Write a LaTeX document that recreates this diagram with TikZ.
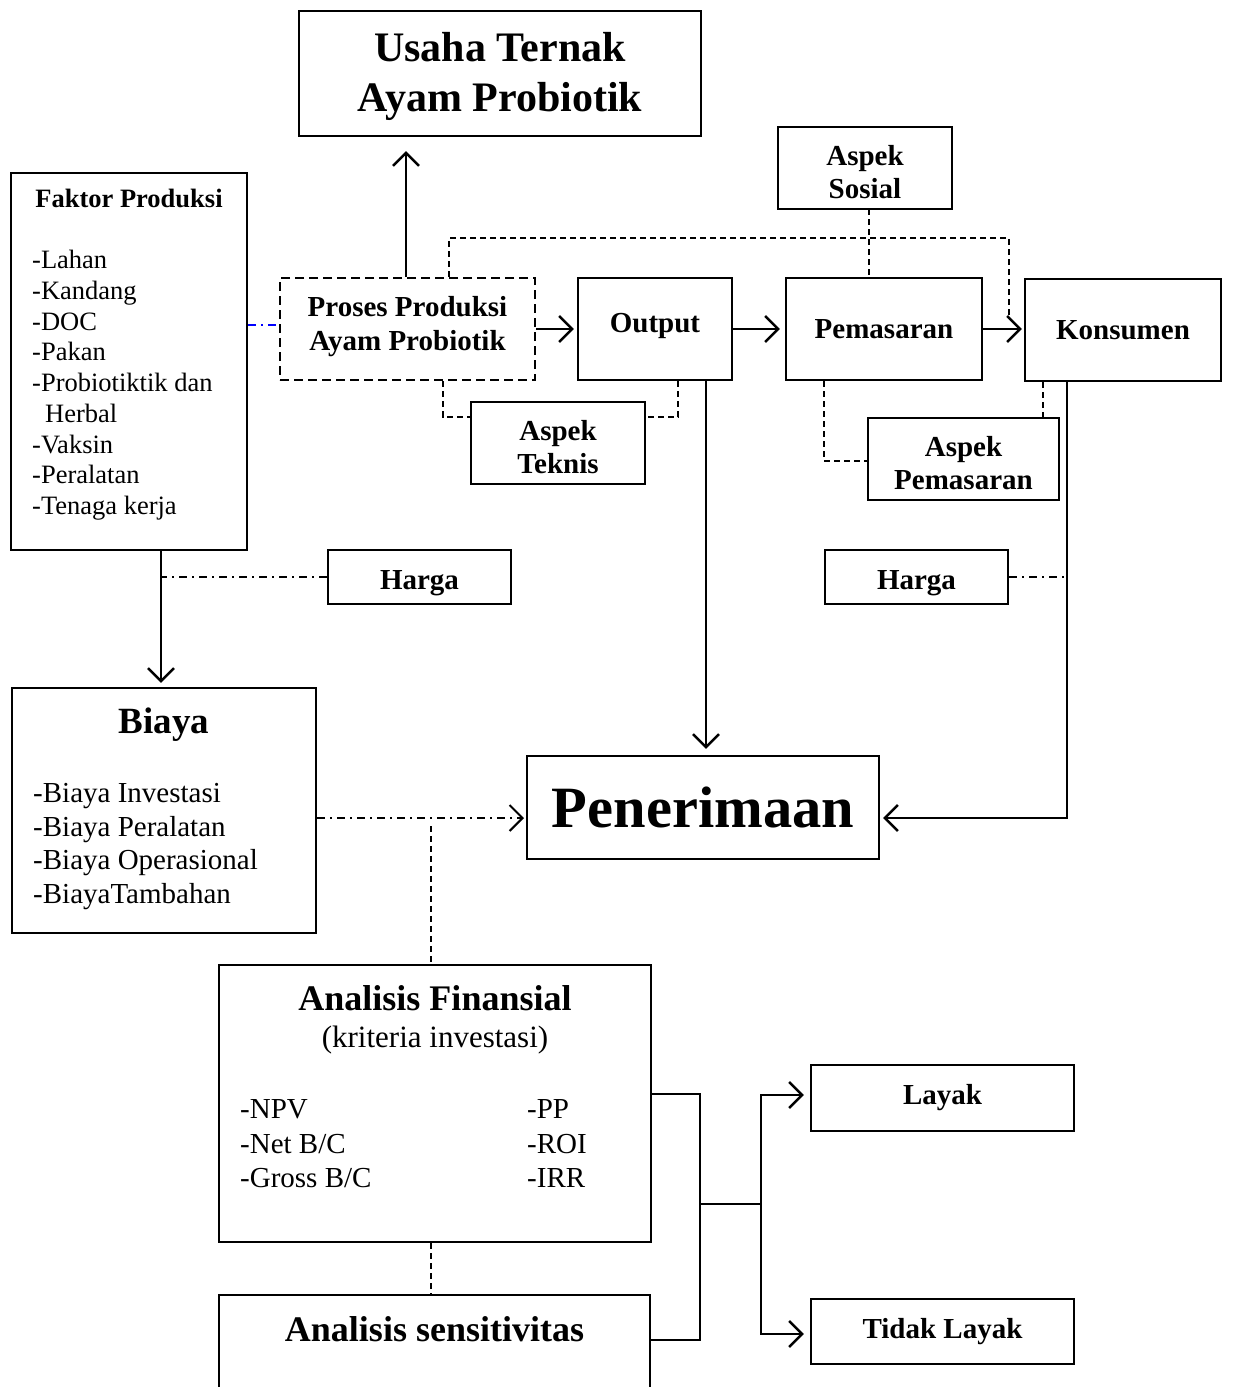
\documentclass[tikz,border=0pt]{standalone}
\usepackage{fontspec}
\setmainfont{Liberation Serif}
\usetikzlibrary{arrows.meta}
\newcommand\fsz[2]{\fontsize{#1pt}{#2pt}\selectfont}
\newcommand\shiftv[2]{\raisebox{#1}[\height][\depth]{#2}}
\tikzset{
  box/.style={draw, line width=2.4pt, inner sep=0pt, align=center},
  dbox/.style={box, dash pattern=on 9pt off 5pt},
  txt/.style={inner sep=0pt},
  line/.style={line width=2.4pt},
  arr/.style={line, -{Straight Barb[length=13pt,width=26pt]}},
  dline/.style={line width=2pt, dash pattern=on 6pt off 4pt},
  dotdash/.style={line width=2pt, dash pattern=on 8pt off 5pt on 2pt off 5pt},
}
\begin{document}
\begin{tikzpicture}[x=1pt, y=-1pt]
  \useasboundingbox (0,0) rectangle (1232,1387);

  \node[box, minimum width=402, minimum height=125, font=\fsz{42}{50}\bfseries] (usaha) at (500,73.5) {\shiftv{-3pt}{Usaha Ternak}\\\shiftv{-3pt}{Ayam Probiotik}};
  \node[box, minimum width=236, minimum height=377] (faktor) at (129,361.5) {};
  \node[dbox, minimum width=255, minimum height=102, font=\fsz{29}{34}\bfseries] (proses) at (407.5,329) {\shiftv{2pt}{Proses Produksi}\\\shiftv{2pt}{Ayam Probiotik}};
  \node[box, minimum width=154, minimum height=102, font=\fsz{29}{34}\bfseries] (output) at (655,329) {\shiftv{3pt}{Output}};
  \node[box, minimum width=196, minimum height=102, font=\fsz{29}{34}\bfseries] (pemasaran) at (884,329) {Pemasaran};
  \node[box, minimum width=196, minimum height=102, font=\fsz{29}{34}\bfseries] (konsumen) at (1123,330) {Konsumen};
  \node[box, minimum width=174, minimum height=82, font=\fsz{29}{33}\bfseries] (sosial) at (865,168) {\shiftv{-4pt}{Aspek}\\\shiftv{-4pt}{Sosial}};
  \node[box, minimum width=174, minimum height=82, font=\fsz{29}{33}\bfseries] (teknis) at (558,443) {\shiftv{-4pt}{Aspek}\\\shiftv{-4pt}{Teknis}};
  \node[box, minimum width=191, minimum height=82, font=\fsz{29}{33}\bfseries] (aspem) at (963.5,459) {\shiftv{-4pt}{Aspek}\\\shiftv{-4pt}{Pemasaran}};
  \node[box, minimum width=183, minimum height=54, font=\fsz{29}{34}\bfseries] (harga1) at (419.5,577) {\shiftv{-6pt}{Harga}};
  \node[box, minimum width=183, minimum height=54, font=\fsz{29}{34}\bfseries] (harga2) at (916.5,577) {\shiftv{-6pt}{Harga}};
  \node[box, minimum width=304, minimum height=245] (biaya) at (164,810.5) {};
  \node[box, minimum width=352, minimum height=103, font=\fsz{58.5}{66}\bfseries] (penerimaan) at (703,807.5) {Penerimaan};
  \node[box, minimum width=432, minimum height=277] (analisis) at (435,1103.5) {};
  \node[box, minimum width=431, minimum height=97] (sensitivitas) at (434.5,1343.5) {};
  \node[box, minimum width=263, minimum height=66, font=\fsz{29}{34}\bfseries] (layak) at (942.5,1098) {Layak};
  \node[box, minimum width=263, minimum height=65, font=\fsz{29}{34}\bfseries] (tidak) at (942.5,1331.5) {Tidak Layak};

  \node[txt, anchor=base, font=\fsz{26.5}{30}\bfseries] (ftitle) at (129,207.7) {Faktor Produksi};
  \foreach \t [count=\i] in {-Lahan,-Kandang,-DOC,-Pakan,-Probiotiktik dan,\hspace*{13pt}Herbal,-Vaksin,-Peralatan,-Tenaga kerja}
    \node[txt, anchor=base west, font=\fsz{26.5}{30}] (f\i) at (32,{268.8+30.7*(\i-1)}) {\t};

  \node[txt, anchor=base, font=\fsz{37}{42}\bfseries] (btitle) at (164,733) {Biaya};
  \foreach \t [count=\i] in {-Biaya Investasi,-Biaya Peralatan,-Biaya Operasional,-BiayaTambahan}
    \node[txt, anchor=base west, font=\fsz{29}{33}] (b\i) at (33,{802.6+33.6*(\i-1)}) {\t};

  \node[txt, anchor=base, font=\fsz{36}{40}\bfseries] (atitle) at (435,1010) {Analisis Finansial};
  \node[txt, anchor=base, font=\fsz{31}{36}] (asub) at (435,1047) {(kriteria investasi)};
  \foreach \t [count=\i] in {-NPV,-Net B/C,-Gross B/C}
    \node[txt, anchor=base west, font=\fsz{29}{33}] (al\i) at (240,{1118.6+34.5*(\i-1)}) {\t};
  \foreach \t [count=\i] in {-PP,-ROI,-IRR}
    \node[txt, anchor=base west, font=\fsz{29}{33}] (ar\i) at (527,{1118.6+34.5*(\i-1)}) {\t};
  \node[txt, anchor=base, font=\fsz{36}{40}\bfseries] (stitle) at (434.5,1341) {Analisis sensitivitas};

  \coordinate (top) at (449,238);
  \coordinate (kdown) at (1067,381);
  \coordinate (pin) at (527,818);
  \coordinate (j) at (700,1204);
  \coordinate (s) at (761,1204);

  \draw[arr, shorten >=14pt] (proses.north -| 406,0) -- (usaha.south -| 406,0);
  \draw[arr, shorten >=3pt] (proses.east) -- (output.west);
  \draw[arr, shorten >=5pt] (output.east) -- (pemasaran.west);
  \draw[arr, shorten >=2pt] (pemasaran.east) -- (konsumen.west |- pemasaran.east);
  \draw[dotdash, blue] (faktor.east |- 0,325) -- (proses.west |- 0,325);
  \draw[arr, shorten >=4pt] (161,550) -- (biaya.north -| 161,0);
  \draw[dotdash] (harga1.west) -- (harga1.west -| 161,0);
  \draw[arr, shorten >=6pt] (706,380) -- (penerimaan.north -| 706,0);
  \draw[arr, shorten >=3pt] (kdown) |- (penerimaan.east |- pin);
  \draw[dotdash] (harga2.east) -- (harga2.east -| kdown);
  \draw[dotdash, -{Straight Barb[length=13pt,width=26pt]}, shorten >=3pt] (biaya.east |- pin) -- (pin);

  \draw[dline, shorten <=8pt] (431,818) -- (analisis.north -| 431,0);
  \draw[dline] (analisis.south -| 431,0) -- (sensitivitas.north -| 431,0);
  \draw[dline] (869,209) -- (pemasaran.north -| 869,0);
  \draw[dline] (proses.north -| top) -- (top) -| (1009,318);
  \draw[dline] (proses.south -| 443,0) |- ([yshift=26pt]teknis.west);
  \draw[dline] (output.south -| 678,0) |- ([yshift=26pt]teknis.east);
  \draw[dline] (pemasaran.south -| 824,0) |- ([yshift=-2pt]aspem.west);
  \draw[dline] (konsumen.south -| 1043,0) -- (aspem.north -| 1043,0);

  \draw[line] ([yshift=9.5pt]analisis.east) -| (j) |- ([yshift=3.5pt]sensitivitas.east);
  \draw[line] (j) -- (s);
  \draw[arr, shorten >=6pt] (s) |- ([yshift=3pt]layak.west);
  \draw[arr, shorten >=6pt] (s) |- ([yshift=-2.5pt]tidak.west);
\end{tikzpicture}
\end{document}
